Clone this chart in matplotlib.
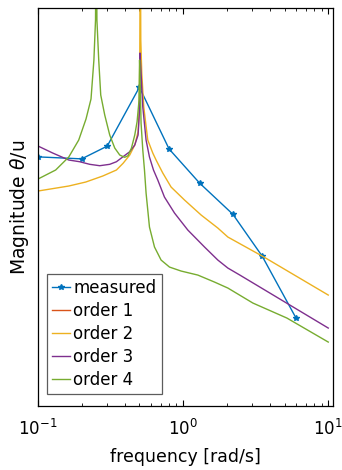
import matplotlib
matplotlib.use("Agg")
import matplotlib.pyplot as plt
from matplotlib.ticker import LogLocator, NullFormatter

# ---- data (magnitude in dB) ----
meas_f = [0.1, 0.2, 0.3, 0.5, 0.8, 1.3, 2.2, 3.5, 6.0]
meas_db = [-17.4, -17.9, -14.7, 0.1, -15.4, -24.0, -31.8, -42.3, -57.9]

order1_f = []
order1_db = []

order2_f = [0.1, 0.163, 0.2134, 0.2794, 0.3472, 0.3857, 0.4289, 0.4644, 0.4895,
            0.4987, 0.503, 0.507, 0.511, 0.519, 0.5358, 0.5708, 0.618, 0.6514,
            0.7244, 0.8264, 1.0226, 1.331, 1.735, 2.034, 3.603, 10.0]
order2_db = [-25.98, -24.72, -23.72, -22.21, -20.70, -19.02, -16.94, -14.42, -11.08,
             -5.63, 8.0, 45.0, 12.0, 3.67, -4.87, -13.17, -16.43, -18.19,
             -21.46, -24.98, -28.24, -32.01, -35.28, -37.54, -42.56, -52.11]

order3_f = [0.1, 0.1263, 0.163, 0.1939, 0.2273, 0.2664, 0.3122, 0.3472, 0.3857,
            0.4289, 0.4644, 0.4895, 0.4987, 0.5028, 0.5045, 0.5132, 0.5275,
            0.5557, 0.5864, 0.625, 0.6692, 0.7437, 0.8725, 1.0775, 1.405,
            1.735, 2.034, 2.46, 10.0]
order3_db = [-14.67, -16.43, -18.19, -18.62, -19.27, -19.62, -19.27, -18.62, -17.36,
             -16.11, -14.42, -11.91, -6.88, 0.65, 8.69, 3.67, -4.87,
             -13.17, -17.44, -20.70, -23.22, -27.49, -31.51, -35.78, -40.05,
             -43.32, -45.33, -47.09, -60.40]

order4_f = [0.1, 0.1324, 0.163, 0.1909, 0.2143, 0.232, 0.2429, 0.2492, 0.252,
            0.2548, 0.2622, 0.2707, 0.2884, 0.3122, 0.3381, 0.366, 0.3962,
            0.4175, 0.4406, 0.4644, 0.4818, 0.4972, 0.5012, 0.5074, 0.5132,
            0.5275, 0.5418, 0.5557, 0.5864, 0.6352, 0.7052, 0.8057, 0.9687,
            1.263, 1.646, 2.034, 3.025, 5.19, 10.0]
order4_db = [-22.97, -20.70, -17.44, -13.17, -7.89, -2.86, 6.93, 16.98, 45.0,
             16.98, 6.93, -1.86, -6.88, -11.91, -15.18, -16.94, -17.51,
             -17.11, -15.18, -11.91, -8.57, -3.12, 6.93, -0.60, -8.89,
             -15.68, -20.70, -26.48, -35.03, -40.05, -43.32, -45.08, -46.08,
             -47.09, -48.85, -50.35, -54.12, -57.89, -63.92]

labels = ["measured", "order 1", "order 2", "order 3", "order 4"]
colors = ["#0072BD", "#D95319", "#EDB120", "#7E2F8E", "#77AC30"]

plt.rcParams['font.family'] = ['DejaVu Sans']
plt.rcParams['mathtext.fontset'] = 'dejavusans'

fig = plt.figure(figsize=(3.42, 4.70), dpi=100)
ax = fig.add_axes([0.111, 0.136, 0.863, 0.847])

ax.plot(meas_f, meas_db, color=colors[0], lw=1.0, marker='*', ms=4,
        label=labels[0])
ax.plot(order1_f, order1_db, color=colors[1], lw=1.0, label=labels[1])
ax.plot(order2_f, order2_db, color=colors[2], lw=1.0, label=labels[2])
ax.plot(order3_f, order3_db, color=colors[3], lw=1.0, label=labels[3])
ax.plot(order4_f, order4_db, color=colors[4], lw=1.0, label=labels[4])

ax.set_xscale('log')
ax.set_xlim(0.1, 10.8)
ax.set_ylim(-80, 20)
ax.set_yticks([])
ax.xaxis.set_major_locator(LogLocator(base=10, numticks=10))
ax.xaxis.set_minor_locator(LogLocator(base=10, subs=range(2, 10), numticks=20))
ax.xaxis.set_minor_formatter(NullFormatter())
ax.tick_params(axis='x', which='both', direction='in', top=True, bottom=True,
               labelsize=12, pad=9)
ax.tick_params(axis='x', which='major', length=4, width=0.8)
ax.tick_params(axis='x', which='minor', length=2.5, width=0.6)
for s in ax.spines.values():
    s.set_linewidth(0.9)
    s.set_color('black')

ax.set_xlabel("frequency [rad/s]", fontsize=12.5, labelpad=7)
ax.set_ylabel(r"Magnitude $\theta$/u", fontsize=13.5, labelpad=5)

leg = ax.legend(loc='lower left', bbox_to_anchor=(0.03, 0.03), fontsize=12,
                frameon=True, fancybox=False, edgecolor='0.2',
                handlelength=1.1, handletextpad=0.2, borderpad=0.3,
                labelspacing=0.3, borderaxespad=0.0)
leg.get_frame().set_linewidth(0.9)

fig.savefig("out.png", dpi=100)
